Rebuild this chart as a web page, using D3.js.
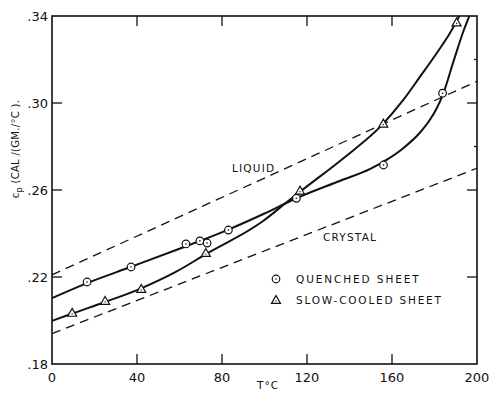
<!DOCTYPE html>
<html>
<head>
<meta charset="utf-8">
<script src="https://cdn.jsdelivr.net/npm/d3@7"></script>
<style>
  body { margin: 0; background: #fff; }
  svg { font-family: "DejaVu Sans", Arial, sans-serif; }
</style>
</head>
<body>
<svg id="chart" width="493" height="394"></svg>
<script>
// axis ticks
const xTicks = [0, 40, 80, 120, 160, 200];
const yTicks = [0.18, 0.22, 0.26, 0.30, 0.34];
const yMinorTicks = [0.28, 0.32];

// dashed reference lines (T, cp)
const liquidLine = [[0, 0.221], [200, 0.310]];
const crystalLine = [[0, 0.194], [200, 0.270]];

// quenched sheet: measured points and drawn curve
const quenchedPts = [[16.5, 0.2177], [37.2, 0.2246], [63, 0.2352], [69.6, 0.2366], [73, 0.2356],
  [83, 0.2416], [115, 0.2562], [156, 0.2715], [183.8, 0.3045]];
const quenchedCurve = [[0, 0.2103], [16.5, 0.2172], [37, 0.2246], [60, 0.2330], [83, 0.2418],
  [100, 0.2492], [115, 0.2562], [135, 0.2640], [150, 0.2698], [158, 0.2742], [165, 0.2790],
  [173, 0.2862], [178, 0.2925], [181, 0.2975], [184, 0.3040], [188.9, 0.3190], [193.6, 0.3330],
  [196.4, 0.3400]];

// slow-cooled sheet: measured points and drawn curve
const slowPts = [[9.5, 0.2035], [25, 0.209], [42, 0.2145], [72.4, 0.231], [116.7, 0.2597],
  [155.9, 0.2905], [190.4, 0.3370]];
const slowCurve = [[0, 0.1998], [9.5, 0.2032], [25, 0.2085], [42, 0.2148], [58, 0.2222],
  [72.4, 0.2305], [99, 0.2455], [110, 0.2540], [116.7, 0.2592], [137, 0.2745], [155.9, 0.2905],
  [165.3, 0.3014], [173.2, 0.3121], [181, 0.3229], [187.3, 0.3322], [191.7, 0.3400]];

const svg = d3.select('#chart');
const margin = { left: 52, right: 16, top: 16, bottom: 30 };
const width = 493, height = 394;

const x = d3.scaleLinear().domain([0, 200]).range([margin.left, width - margin.right]);
const y = d3.scaleLinear().domain([0.18, 0.34]).range([height - margin.bottom, margin.top]);

const ink = '#111';
const fmt = v => d3.format('.2f')(v).replace(/^0/, '');

// frame
svg.append('rect')
  .attr('x', x(0)).attr('y', y(0.34))
  .attr('width', x(200) - x(0)).attr('height', y(0.18) - y(0.34))
  .attr('fill', 'none').attr('stroke', ink).attr('stroke-width', 1.6);

// inward ticks
const inner = xTicks.slice(1, -1);
const innerY = yTicks.slice(1, -1);
const tickLen = 10;
const ticks = svg.append('g').attr('stroke', ink).attr('stroke-width', 1.3);
inner.forEach(t => {
  ticks.append('line').attr('x1', x(t)).attr('x2', x(t)).attr('y1', y(0.18)).attr('y2', y(0.18) - tickLen);
  ticks.append('line').attr('x1', x(t)).attr('x2', x(t)).attr('y1', y(0.34)).attr('y2', y(0.34) + tickLen);
});
innerY.forEach(t => {
  ticks.append('line').attr('x1', x(0)).attr('x2', x(0) + tickLen).attr('y1', y(t)).attr('y2', y(t));
  ticks.append('line').attr('x1', x(200)).attr('x2', x(200) - tickLen).attr('y1', y(t)).attr('y2', y(t));
});
yMinorTicks.forEach(t => {
  ticks.append('line').attr('x1', x(200)).attr('x2', x(200) - 3).attr('y1', y(t)).attr('y2', y(t));
});

// tick labels
svg.append('g').selectAll('text').data(yTicks).join('text')
  .attr('x', x(0) - 4).attr('y', d => y(d)).attr('dy', '0.35em')
  .attr('text-anchor', 'end').attr('font-size', 13).attr('fill', ink)
  .text(fmt);
svg.append('g').selectAll('text').data(xTicks).join('text')
  .attr('x', d => x(d)).attr('y', y(0.18) + 18)
  .attr('text-anchor', 'middle').attr('font-size', 13).attr('fill', ink)
  .text(d => d);

// axis titles
svg.append('text')
  .attr('x', 268).attr('y', 389).attr('text-anchor', 'middle')
  .attr('font-size', 10.5).attr('fill', ink).attr('letter-spacing', 1)
  .text('T°C');

const yTitle = svg.append('text')
  .attr('transform', 'translate(19,149) rotate(-90)')
  .attr('text-anchor', 'middle').attr('font-size', 10).attr('fill', ink)
  .attr('letter-spacing', 0.3);
yTitle.append('tspan').text('c');
yTitle.append('tspan').attr('dy', 3).attr('font-size', 8).text('p');
yTitle.append('tspan').attr('dy', -3).text(' (CAL /(GM./°C ).');

// dashed lines
const line = d3.line().x(d => x(d[0])).y(d => y(d[1]));
[liquidLine, crystalLine].forEach(l => {
  svg.append('path').attr('d', line(l))
    .attr('fill', 'none').attr('stroke', ink).attr('stroke-width', 1.3)
    .attr('stroke-dasharray', '9,6');
});

// solid curves
const smooth = d3.line().x(d => x(d[0])).y(d => y(d[1])).curve(d3.curveMonotoneX);
[quenchedCurve, slowCurve].forEach(c => {
  svg.append('path').attr('d', smooth(c))
    .attr('fill', 'none').attr('stroke', ink).attr('stroke-width', 2);
});

// markers
function circleMark(g, cx, cy) {
  g.append('circle').attr('cx', cx).attr('cy', cy).attr('r', 3.8)
    .attr('fill', '#fff').attr('stroke', ink).attr('stroke-width', 1.2);
  g.append('circle').attr('cx', cx).attr('cy', cy).attr('r', 0.8).attr('fill', ink);
}
function triMark(g, cx, cy) {
  const s = 4.5;
  g.append('path')
    .attr('d', `M${cx},${cy - s}L${cx + s},${cy + s * 0.75}L${cx - s},${cy + s * 0.75}Z`)
    .attr('fill', '#fff').attr('stroke', ink).attr('stroke-width', 1.2);
  g.append('circle').attr('cx', cx).attr('cy', cy + 1).attr('r', 0.7).attr('fill', ink);
}
const marks = svg.append('g');
quenchedPts.forEach(d => circleMark(marks, x(d[0]), y(d[1])));
slowPts.forEach(d => triMark(marks, x(d[0]), y(d[1])));

// labels
const label = (tx, ty, t, ls) => svg.append('text')
  .attr('x', tx).attr('y', ty).attr('font-size', 10.5).attr('fill', ink)
  .attr('letter-spacing', ls).text(t);
label(232, 172, 'LIQUID', 1.2);
label(323, 241, 'CRYSTAL', 1.2);
label(296, 283, 'QUENCHED SHEET', 1.9);
label(296, 304, 'SLOW-COOLED SHEET', 1.8);
circleMark(svg, 276, 279);
triMark(svg, 276, 300);
</script>
</body>
</html>
